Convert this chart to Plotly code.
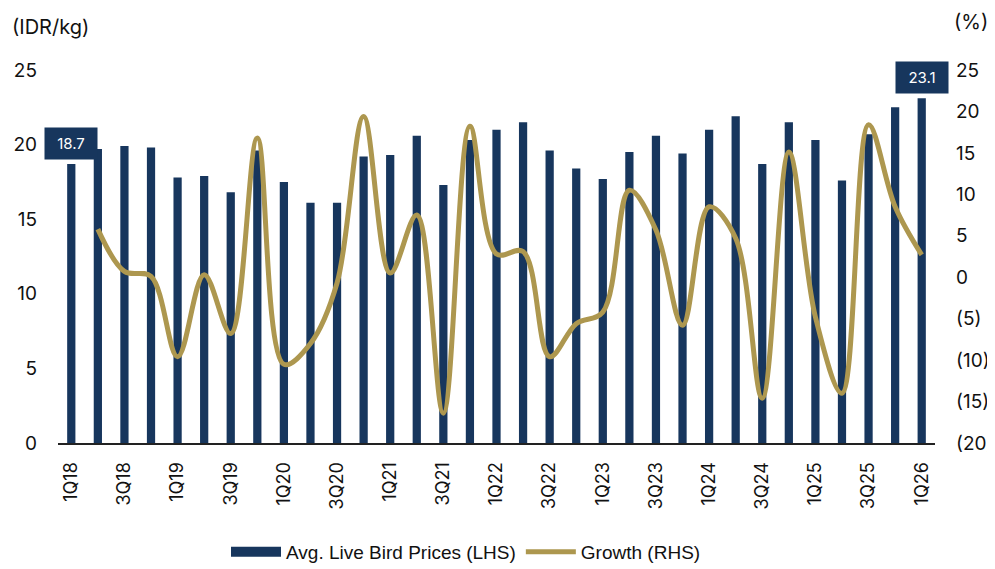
import plotly.graph_objects as go

quarters = ["1Q18","2Q18","3Q18","4Q18","1Q19","2Q19","3Q19","4Q19",
            "1Q20","2Q20","3Q20","4Q20","1Q21","2Q21","3Q21","4Q21",
            "1Q22","2Q22","3Q22","4Q22","1Q23","2Q23","3Q23","4Q23",
            "1Q24","2Q24","3Q24","4Q24","1Q25","2Q25","3Q25","4Q25","1Q26"]

prices = [18.7, 19.7, 19.9, 19.8, 17.8, 17.9, 16.8, 19.6,
          17.5, 16.1, 16.1, 19.2, 19.3, 20.6, 17.3, 20.3,
          21.0, 21.5, 19.6, 18.4, 17.7, 19.5, 20.6, 19.4,
          21.0, 21.9, 18.7, 21.5, 20.3, 17.6, 20.7, 22.5, 23.1]

growth_q = quarters[1:]
growth = [5.8, 0.7, 0.1, -9.6, 0.3, -6.8, 16.8,
          -10.5, -8.0, -0.7, 19.4, 0.5, 7.5, -16.4, 18.2,
          2.8, 3.1, -9.6, -5.6, -4.2, 10.5, 5.7, -5.8,
          8.5, 4.7, -14.6, 15.1, -4.8, -14.0, 18.4, 8.5, 2.7]

left_ticks = [0, 5, 10, 15, 20, 25]
right_ticks = [-20, -15, -10, -5, 0, 5, 10, 15, 20, 25]
right_text = ["(20)", "(15)", "(10)", "(5)", "0", "5", "10", "15", "20", "25"]
x_ticks = quarters[::2]

NAVY = "#17365D"
GOLD = "#AD974F"
FONT = "Inter"
TXT = "#111111"

W, H = 987, 561
L, T, R, B = 50, 62, 60, 126
PW, PH = W - L - R, H - T - B

fig = go.Figure()
fig.add_trace(go.Bar(
    x=quarters, y=prices, name="Avg. Live Bird Prices (LHS)",
    marker=dict(color=NAVY, line=dict(width=0)), width=0.31, showlegend=False,
))
# legend entry drawn as a wide block, like the reference
fig.add_trace(go.Scatter(
    x=[None], y=[None], name="Avg. Live Bird Prices (LHS)", mode="lines",
    line=dict(color=NAVY, width=10), showlegend=True,
))
fig.add_trace(go.Scatter(
    x=growth_q, y=growth, name="Growth (RHS)", yaxis="y2",
    mode="lines", line=dict(color=GOLD, width=5, shape="spline", smoothing=1.0),
))

for idx in (0, len(quarters) - 1):
    fig.add_annotation(
        x=quarters[idx], y=prices[idx], xref="x", yref="y",
        text=f"{prices[idx]:.1f}", showarrow=False, yshift=21,
        bgcolor=NAVY, font=dict(color="white", size=15, family=FONT),
        width=44, height=23, borderpad=4,
    )

fig.add_annotation(x=(2 - L) / PW, y=1 + (T - 19) / PH, xref="paper", yref="paper",
                   xanchor="left", yanchor="middle", text="(IDR/kg)", showarrow=False,
                   font=dict(size=20, color=TXT, family=FONT))
fig.add_annotation(x=(982 - L) / PW, y=1 + (T - 14) / PH, xref="paper", yref="paper",
                   xanchor="right", yanchor="middle", text="(%)", showarrow=False,
                   font=dict(size=20, color=TXT, family=FONT))

fig.update_layout(
    width=W, height=H,
    margin=dict(l=L, r=R, t=T, b=B, autoexpand=False),
    paper_bgcolor="white", plot_bgcolor="white",
    font=dict(family=FONT, color=TXT),
    xaxis=dict(
        type="category", categoryorder="array", categoryarray=quarters,
        range=[-0.5, len(quarters) - 0.5],
        tickmode="array", tickvals=x_ticks, ticktext=x_ticks,
        tickangle=-90, tickfont=dict(size=18, family=FONT, color=TXT),
        showline=True, linecolor="#222222", linewidth=2,
        showgrid=False, ticks="", zeroline=False, ticklabelstandoff=10,
    ),
    yaxis=dict(
        range=[0, 25], tickmode="array", tickvals=left_ticks,
        tickfont=dict(size=19, family=FONT, color=TXT),
        showgrid=False, zeroline=False, showline=False, ticks="",
        ticklabelstandoff=20,
    ),
    yaxis2=dict(
        overlaying="y", side="right", range=[-20, 25],
        tickmode="array", tickvals=right_ticks, ticktext=right_text,
        tickfont=dict(size=19, family=FONT, color=TXT),
        showgrid=False, zeroline=False, showline=False, ticks="",
        ticklabelstandoff=20,
    ),
    legend=dict(
        orientation="h", x=(466 - 8 - L) / PW, xanchor="center",
        y=-(552 - 8 - (T + PH)) / PH, yanchor="middle",
        font=dict(size=19, family="Liberation Sans", color=TXT),
        itemwidth=50, tracegroupgap=0,
    ),
    showlegend=True,
)

fig.write_html("out.html")
